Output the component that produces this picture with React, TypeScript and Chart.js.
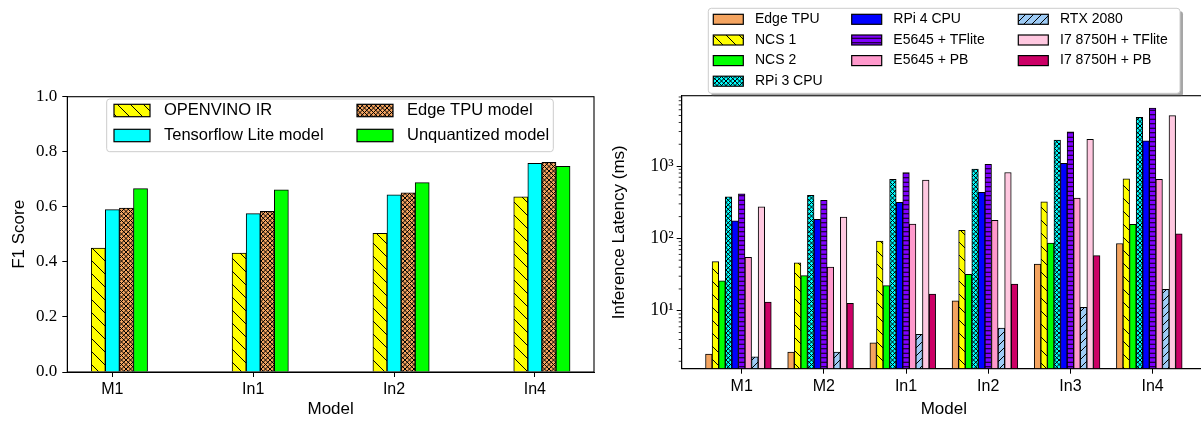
import React, { useEffect, useRef } from 'react';
import { Chart, registerables } from 'chart.js';

Chart.register(...registerables);

// ---------- Data: left chart (F1 score) ----------
const f1Categories = ['M1', 'In1', 'In2', 'In4'];
const f1Openvino = [0.45, 0.432, 0.504, 0.636];
const f1Tflite = [0.59, 0.575, 0.644, 0.758];
const f1EdgeTpu = [0.595, 0.584, 0.651, 0.762];
const f1Unquantized = [0.666, 0.662, 0.688, 0.747];
const f1TickValues = [0, 0.2, 0.4, 0.6, 0.8, 1.0];

// ---------- Data: right chart (latency, ms) ----------
const latCategories = ['M1', 'M2', 'In1', 'In2', 'In3', 'In4'];
const latEdgeTpu = [2.52, 2.69, 3.6, 13.7, 44.3, 85];
const latNcs1 = [47.6, 46, 92, 129, 321, 668];
const latNcs2 = [25.8, 30.5, 22.2, 31.9, 86, 156];
const latRpi3 = [376, 394, 655, 908, 2286, 4710];
const latRpi4 = [175, 183, 315, 433, 1090, 2233];
const latE5645Tflite = [414, 335, 813, 1057, 2980, 6310];
const latE5645Pb = [54.8, 40.2, 158, 177, 361, 655];
const latRtx2080 = [2.31, 2.69, 4.7, 5.77, 11.1, 19.8];
const latI7Tflite = [274, 197, 638, 813, 2336, 4970];
const latI7Pb = [13.2, 12.7, 17.0, 23.4, 57.7, 116];
const latTickValues = [10, 100, 1000];
const latTickLabels = ['10¹', '10²', '10³'];

type Hatch = 'none' | 'back' | 'fwd' | 'cross' | 'horiz';

function makeFill(color: string, hatch: Hatch, period: number, reps: number): any {
  if (hatch === 'none') return color;
  const S = Math.round(period * reps);
  const c = document.createElement('canvas');
  c.width = S;
  c.height = S;
  const g = c.getContext('2d')!;
  g.fillStyle = color;
  g.fillRect(0, 0, S, S);
  g.strokeStyle = '#000';
  g.lineWidth = 1;
  g.beginPath();
  const p = S / reps;
  if (hatch === 'back' || hatch === 'cross') {
    for (let k = -reps - 1; k <= reps + 1; k++) {
      g.moveTo(k * p - 2, -2);
      g.lineTo(k * p + S + 2, S + 2);
    }
  }
  if (hatch === 'fwd' || hatch === 'cross') {
    for (let k = -1; k <= 2 * reps + 1; k++) {
      g.moveTo(k * p + 2, -2);
      g.lineTo(k * p - S - 2, S + 2);
    }
  }
  if (hatch === 'horiz') {
    for (let k = 0; k < reps; k++) {
      const y = k * p + p / 2;
      g.moveTo(0, y);
      g.lineTo(S, y);
    }
  }
  g.stroke();
  return g.createPattern(c, 'repeat');
}

const framePlugin = {
  id: 'frame',
  afterDatasetsDraw(chart: any) {
    const { left, top, right, bottom } = chart.chartArea;
    const ctx = chart.ctx;
    ctx.save();
    ctx.strokeStyle = '#000';
    ctx.lineWidth = 1.1;
    ctx.strokeRect(left, top, right - left, bottom - top);
    ctx.restore();
  },
};

const minorLogTicksPlugin = {
  id: 'minorLogTicks',
  afterDraw(chart: any) {
    const s = chart.scales.y;
    const ctx = chart.ctx;
    const x0 = chart.chartArea.left;
    ctx.save();
    ctx.strokeStyle = '#000';
    ctx.lineWidth = 0.8;
    ctx.beginPath();
    for (let e = -1; e <= 4; e++) {
      for (let m = 2; m <= 9; m++) {
        const v = m * Math.pow(10, e);
        if (v <= s.min || v >= s.max) continue;
        const y = s.getPixelForValue(v);
        ctx.moveTo(x0 - 3, y);
        ctx.lineTo(x0, y);
      }
    }
    ctx.stroke();
    ctx.restore();
  },
};

interface LegendCfg {
  id: string;
  box: { x: number; y: number; w: number; h: number };
  shadow: boolean;
  radius: number;
  colCounts: number[];
  swatchX: number[];
  textX: number[];
  rowY: number[];
  swW: number;
  swH: number;
  font: string;
}

function legendPlugin(cfg: LegendCfg) {
  return {
    id: cfg.id,
    afterDraw(chart: any) {
      const ctx = chart.ctx;
      const b = cfg.box;
      ctx.save();
      if (cfg.shadow) {
        ctx.beginPath();
        ctx.roundRect(b.x + 3, b.y + 3, b.w, b.h, cfg.radius);
        ctx.fillStyle = 'rgba(77,77,77,0.5)';
        ctx.fill();
      }
      ctx.beginPath();
      ctx.roundRect(b.x, b.y, b.w, b.h, cfg.radius);
      ctx.fillStyle = cfg.shadow ? '#ffffff' : 'rgba(255,255,255,0.8)';
      ctx.fill();
      ctx.strokeStyle = '#cccccc';
      ctx.lineWidth = 1;
      ctx.stroke();
      const ds = chart.data.datasets;
      let idx = 0;
      cfg.colCounts.forEach((count, col) => {
        for (let r = 0; r < count; r++) {
          const d = ds[idx++];
          if (!d) continue;
          const cy = cfg.rowY[r];
          const sx = cfg.swatchX[col];
          ctx.fillStyle = d.backgroundColor;
          ctx.fillRect(sx, cy - cfg.swH / 2, cfg.swW, cfg.swH);
          ctx.strokeStyle = '#000';
          ctx.lineWidth = 1.2;
          ctx.strokeRect(sx, cy - cfg.swH / 2, cfg.swW, cfg.swH);
          ctx.fillStyle = '#000';
          ctx.font = cfg.font;
          ctx.textBaseline = 'middle';
          ctx.textAlign = 'left';
          ctx.fillText(d.label, cfg.textX[col], cy);
        }
      });
      ctx.restore();
    },
  };
}

const sansTick = { family: 'Liberation Sans', size: 16 };
const serifTick = { family: 'Liberation Serif', size: 17 };
const titleFont = { family: 'Liberation Sans', size: 17 };

function barDataset(label: string, values: number[], offset: number, fill: any) {
  return {
    label,
    data: values.map((v, i) => ({ x: i + offset, y: v })),
    backgroundColor: fill,
    borderColor: '#000',
    borderWidth: 1,
    grouped: false,
    barPercentage: 1,
    categoryPercentage: 1,
  };
}

const tickGrid = {
  display: true,
  offset: false,
  drawOnChartArea: false,
  drawTicks: true,
  tickLength: 5,
  tickColor: '#000',
  tickWidth: 1,
};

function buildF1Chart(canvas: HTMLCanvasElement) {
  const w = 0.1;
  const datasets = [
    barDataset('OPENVINO IR', f1Openvino, -w, makeFill('#ffff00', 'back', 13, 1)),
    barDataset('Tensorflow Lite model', f1Tflite, 0, '#00ffff'),
    barDataset('Edge TPU model', f1EdgeTpu, w, makeFill('#f4a460', 'cross', 4.5, 2)),
    barDataset('Unquantized model', f1Unquantized, 2 * w, '#00ff00'),
  ];
  return new Chart(canvas, {
    type: 'bar',
    data: { datasets } as any,
    options: {
      animation: false,
      responsive: false,
      events: [],
      layout: { padding: { top: 96.7, right: 6, left: 0, bottom: 0 } },
      plugins: { legend: { display: false }, tooltip: { enabled: false } },
      scales: {
        x: {
          type: 'linear',
          offset: false,
          min: -0.32,
          max: 3.42,
          afterBuildTicks: (s: any) => {
            s.ticks = f1Categories.map((_, i) => ({ value: i }));
          },
          afterFit: (s: any) => {
            s.height = 51;
          },
          ticks: {
            callback: (v: any) => f1Categories[Math.round(Number(v))] ?? '',
            autoSkip: false,
            maxRotation: 0,
            minRotation: 0,
            padding: 3,
            color: '#000',
            font: sansTick,
          },
          grid: tickGrid,
          border: { display: true, color: '#000', width: 1 },
          title: { display: true, text: 'Model', color: '#000', font: titleFont, padding: { top: 0, bottom: 3 } },
        },
        y: {
          type: 'linear',
          min: 0,
          max: 1,
          afterBuildTicks: (s: any) => {
            s.ticks = f1TickValues.map((v) => ({ value: v }));
          },
          afterFit: (s: any) => {
            s.width = 67.3;
          },
          ticks: {
            callback: (v: any) => Number(v).toFixed(1),
            padding: 5,
            color: '#000',
            font: serifTick,
          },
          grid: tickGrid,
          border: { display: true, color: '#000', width: 1 },
          title: { display: true, text: 'F1 Score', color: '#000', font: titleFont, padding: { top: 9, bottom: 0 } },
        },
      },
    } as any,
    plugins: [
      framePlugin,
      legendPlugin({
        id: 'f1Legend',
        box: { x: 106.7, y: 99, w: 446.6, h: 52.7 },
        shadow: false,
        radius: 3,
        colCounts: [2, 2],
        swatchX: [114, 357],
        textX: [164, 407],
        rowY: [110.5, 135.5],
        swW: 36,
        swH: 12.4,
        font: '16.5px "Liberation Sans"',
      }),
    ],
  });
}

function buildLatencyChart(canvas: HTMLCanvasElement) {
  const w = 0.08;
  const datasets = [
    barDataset('Edge TPU', latEdgeTpu, -5 * w, '#f4a460'),
    barDataset('NCS 1', latNcs1, -4 * w, makeFill('#ffff00', 'back', 13, 1)),
    barDataset('NCS 2', latNcs2, -3 * w, '#00ff00'),
    barDataset('RPi 3 CPU', latRpi3, -2 * w, makeFill('#00ffff', 'cross', 4.5, 2)),
    barDataset('RPi 4 CPU', latRpi4, -1 * w, '#0000ff'),
    barDataset('E5645 + TFlite', latE5645Tflite, 0, makeFill('#8000ff', 'horiz', 4.5, 2)),
    barDataset('E5645 + PB', latE5645Pb, 1 * w, '#ff99cc'),
    barDataset('RTX 2080', latRtx2080, 2 * w, makeFill('#9ecbf5', 'fwd', 8, 1)),
    barDataset('I7 8750H + TFlite', latI7Tflite, 3 * w, '#ffc8e0'),
    barDataset('I7 8750H + PB', latI7Pb, 4 * w, '#cc0066'),
  ];
  return new Chart(canvas, {
    type: 'bar',
    data: { datasets } as any,
    options: {
      animation: false,
      responsive: false,
      events: [],
      layout: { padding: { top: 95.7, right: 9, left: 0, bottom: 0 } },
      plugins: { legend: { display: false }, tooltip: { enabled: false } },
      scales: {
        x: {
          type: 'linear',
          offset: false,
          min: -0.73,
          max: 5.65,
          afterBuildTicks: (s: any) => {
            s.ticks = latCategories.map((_, i) => ({ value: i }));
          },
          afterFit: (s: any) => {
            s.height = 54.3;
          },
          ticks: {
            callback: (v: any) => latCategories[Math.round(Number(v))] ?? '',
            autoSkip: false,
            maxRotation: 0,
            minRotation: 0,
            padding: 3,
            color: '#000',
            font: sansTick,
          },
          grid: tickGrid,
          border: { display: true, color: '#000', width: 1 },
          title: { display: true, text: 'Model', color: '#000', font: titleFont, padding: { top: 0, bottom: 3 } },
        },
        y: {
          type: 'logarithmic',
          min: 1.58,
          max: 9380,
          afterBuildTicks: (s: any) => {
            s.ticks = latTickValues.map((v) => ({ value: v, major: true }));
          },
          afterFit: (s: any) => {
            s.width = 81.7;
          },
          ticks: {
            callback: (v: any) => {
              const i = latTickValues.indexOf(Number(v));
              return i >= 0 ? latTickLabels[i] : '';
            },
            padding: 3,
            color: '#000',
            font: { family: 'Liberation Serif', size: 18 },
          },
          grid: tickGrid,
          border: { display: true, color: '#000', width: 1 },
          title: { display: true, text: 'Inference Latency (ms)', color: '#000', font: titleFont, padding: { top: 9, bottom: 0 } },
        },
      },
    } as any,
    plugins: [
      framePlugin,
      minorLogTicksPlugin,
      legendPlugin({
        id: 'latLegend',
        box: { x: 108.3, y: 8.3, w: 471.7, h: 85 },
        shadow: true,
        radius: 3,
        colCounts: [4, 3, 3],
        swatchX: [113.3, 251.7, 418.3],
        textX: [155, 293.3, 460],
        rowY: [19.3, 40, 60.6, 81.2],
        swW: 30,
        swH: 10,
        font: '14px "Liberation Sans"',
      }),
    ],
  });
}

export default function App() {
  const leftRef = useRef<HTMLCanvasElement>(null);
  const rightRef = useRef<HTMLCanvasElement>(null);
  useEffect(() => {
    const c1 = buildF1Chart(leftRef.current!);
    const c2 = buildLatencyChart(rightRef.current!);
    return () => {
      c1.destroy();
      c2.destroy();
    };
  }, []);
  return (
    <div
      style={{
        position: 'absolute',
        left: 0,
        top: 0,
        width: 1201,
        height: 423,
        overflow: 'hidden',
        background: '#ffffff',
      }}
    >
      <canvas ref={leftRef} width={600} height={423} style={{ position: 'absolute', left: 0, top: 0 }} />
      <canvas ref={rightRef} width={615} height={423} style={{ position: 'absolute', left: 600, top: 0 }} />
    </div>
  );
}
